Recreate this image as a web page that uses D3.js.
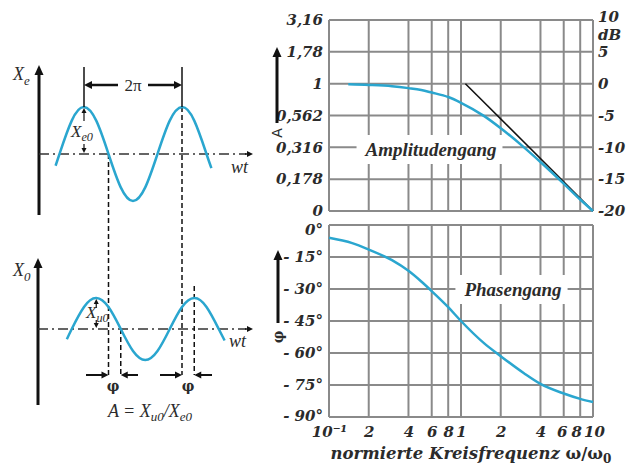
<!doctype html>
<html>
<head>
<meta charset="utf-8"/>
<title>Amplitudengang und Phasengang</title>
<script src="https://d3js.org/d3.v7.min.js"></script>
<style>
body { margin: 0; background: #fff; }
</style>
</head>
<body>
<div id="svg01"></div>
<script>
// Frequenzachse omega/omega0 (Gitterlinien und Beschriftung)
var gridW = [0.1, 0.2, 0.4, 0.6, 0.8, 1, 2, 4, 6, 8, 10];
var xLabels = ["10⁻¹", "2", "4", "6", "8", "1", "2", "4", "6", "8", "10"];

// Amplitudengang
var dbTicks = [10, 5, 0, -5, -10, -15, -20];
var aLabels = ["3,16", "1,78", "1", "0,562", "0,316", "0,178", "0"];
var dbLabels = ["10", "5", "0", "-5", "-10", "-15", "-20"];
var ampW  = [0.14, 0.2, 0.3, 0.4, 0.5, 0.6, 0.8, 1, 1.5, 2, 3, 4, 6, 8, 10];
var ampDb = [-0.1, -0.2, -0.4, -0.7, -1.0, -1.4, -2.1, -3.0, -5.1, -7.0, -10.0, -12.3, -15.7, -18.2, -20.0];
var asymW  = [1.08, 10];
var asymDb = [0, -20];

// Phasengang
var phTicks = [0, -15, -30, -45, -60, -75, -90];
var phLabels = ["0°", "- 15°", "- 30°", "- 45°", "- 60°", "- 75°", "- 90°"];
var phW   = [0.1, 0.15, 0.2, 0.3, 0.4, 0.5, 0.6, 0.8, 1, 1.5, 2, 3, 4, 6, 8, 10];
var phDeg = [-6, -8.5, -11.5, -16.5, -21.5, -26.5, -31, -38.5, -45, -55.5, -61.5, -69.5, -74.5, -79, -81.5, -83];

// Sinus-Skizze: Zeit in Perioden, Wert in Amplituden
var inT  = [-0.29, -0.25, -0.125, 0, 0.125, 0.25, 0.375, 0.5, 0.625, 0.75, 0.875, 1, 1.125, 1.25, 1.3];
var inV  = [-0.25, 0, 0.71, 1, 0.71, 0, -0.71, -1, -0.71, 0, 0.71, 1, 0.71, 0, -0.3];
var outT = [-0.3, -0.25, -0.125, 0, 0.125, 0.25, 0.375, 0.5, 0.625, 0.75, 0.875, 1, 1.125, 1.25, 1.31];
var outV = [-0.33, 0, 0.71, 1, 0.71, 0, -0.71, -1, -0.71, 0, 0.71, 1, 0.71, 0, -0.37];
var phaseShift = 0.125;

var svg = d3.select("#svg01").append("svg")
    .attr("width", 634)
    .attr("height", 465);

var blue = "#2aa6cf";
var grid = "#8a8a8a";
var ink = "#2b2b2b";
var tickFont = "'DejaVu Serif', serif";

function arrow(g, x1, y1, x2, y2, w, len, half) {
    var dx = x2 - x1, dy = y2 - y1;
    var L = Math.sqrt(dx * dx + dy * dy);
    var ux = dx / L, uy = dy / L;
    var bx = x2 - ux * len, by = y2 - uy * len;
    g.append("line")
        .attr("x1", x1).attr("y1", y1).attr("x2", bx + ux).attr("y2", by + uy)
        .attr("stroke", "#111").attr("stroke-width", w);
    g.append("path")
        .attr("d", "M" + x2 + "," + y2 + "L" + (bx - uy * half) + "," + (by + ux * half) +
              "L" + (bx + uy * half) + "," + (by - ux * half) + "Z")
        .attr("fill", "#111");
}

// ---------------- rechte Seite: Bode-Diagramm ----------------
var x = d3.scaleLog().domain([0.1, 10]).range([329, 593]);
var yA = d3.scaleLinear().domain([-20, 10]).range([211, 20]);
var yP = d3.scaleLinear().domain([-90, 0]).range([417, 225]);

function panel(yScale, ticks, title, tx, ty) {
    var g = svg.append("g");
    g.selectAll(".v").data(gridW).enter().append("line")
        .attr("x1", function(d) { return x(d); }).attr("x2", function(d) { return x(d); })
        .attr("y1", yScale.range()[0]).attr("y2", yScale.range()[1])
        .attr("stroke", grid).attr("stroke-width", 2);
    g.selectAll(".h").data(ticks).enter().append("line")
        .attr("x1", x(0.1)).attr("x2", x(10))
        .attr("y1", function(d) { return yScale(d); }).attr("y2", function(d) { return yScale(d); })
        .attr("stroke", grid).attr("stroke-width", 2);
    var t = g.append("text")
        .attr("x", tx).attr("y", ty)
        .attr("text-anchor", "middle")
        .attr("font-family", "'Liberation Serif', serif")
        .attr("font-style", "italic")
        .attr("font-weight", "bold")
        .attr("font-size", 19)
        .attr("fill", ink)
        .text(title);
    var b = t.node().getBBox();
    g.insert("rect", "text")
        .attr("x", b.x - 8).attr("y", b.y - 4)
        .attr("width", b.width + 14).attr("height", b.height + 8)
        .attr("fill", "#fff");
    return g;
}

var gA = panel(yA, dbTicks, "Amplitudengang", 431, 156);
var gP = panel(yP, phTicks, "Phasengang", 513, 296);

function styleTicks(sel) {
    sel.select(".domain").remove();
    sel.selectAll("text")
        .attr("font-family", tickFont)
        .attr("font-style", "italic")
        .attr("font-weight", "bold")
        .attr("font-size", 15)
        .attr("fill", ink);
}

svg.append("g").attr("transform", "translate(" + x(0.1) + ",0)")
    .call(d3.axisLeft(yA).tickValues(dbTicks).tickSize(0).tickPadding(6)
        .tickFormat(function(d, i) { return aLabels[i]; }))
    .call(styleTicks);

var gDb = svg.append("g").attr("transform", "translate(" + x(10) + ",0)")
    .call(d3.axisRight(yA).tickValues(dbTicks).tickSize(0).tickPadding(5)
        .tickFormat(function(d, i) { return dbLabels[i]; }))
    .call(styleTicks);
gDb.selectAll(".tick text").filter(function(d) { return d === 10; }).attr("dy", "0.1em");
gDb.append("text")
    .attr("x", 5).attr("y", yA(7.5) - 1).attr("dy", "0.32em")
    .attr("font-family", tickFont).attr("font-style", "italic").attr("font-weight", "bold")
    .attr("font-size", 15).attr("fill", ink)
    .text("dB");

var gPh = svg.append("g").attr("transform", "translate(" + x(0.1) + ",0)")
    .call(d3.axisLeft(yP).tickValues(phTicks).tickSize(0).tickPadding(6)
        .tickFormat(function(d, i) { return phLabels[i]; }))
    .call(styleTicks);
gPh.selectAll(".tick text").filter(function(d) { return d === 0; }).attr("dy", "0.62em");
gPh.selectAll(".tick text").filter(function(d) { return d === -90; }).attr("dy", "0.2em");

var gX = svg.append("g").attr("transform", "translate(0," + yP(-90) + ")")
    .call(d3.axisBottom(x).tickValues(gridW).tickSize(0).tickPadding(9)
        .tickFormat(function(d, i) { return xLabels[i]; }))
    .call(styleTicks);
// dichte Beschriftung am rechten Ende etwas auseinanderziehen
gX.selectAll(".tick text").attr("dx", function(d, i) {
    return i === 9 ? -4 : (i === 10 ? 1 : (i === 8 ? -2 : 0));
});

svg.append("text")
    .attr("x", 471).attr("y", 459)
    .attr("text-anchor", "middle")
    .attr("font-family", tickFont).attr("font-style", "italic").attr("font-weight", "bold")
    .attr("font-size", 16.5).attr("fill", ink)
    .text("normierte Kreisfrequenz ")
    .append("tspan").attr("font-style", "normal").text("ω/ω")
    .append("tspan").attr("font-size", 12).attr("dy", 4).text("0");

// Kurven
var ampData = ampW.map(function(w, i) { return [w, ampDb[i]]; });
var asymData = asymW.map(function(w, i) { return [w, asymDb[i]]; });
var phData = phW.map(function(w, i) { return [w, phDeg[i]]; });

svg.append("path").datum(asymData)
    .attr("d", d3.line().x(function(d) { return x(d[0]); }).y(function(d) { return yA(d[1]); }))
    .attr("fill", "none").attr("stroke", "#111").attr("stroke-width", 1.5);
svg.append("path").datum(ampData)
    .attr("d", d3.line().curve(d3.curveMonotoneX)
        .x(function(d) { return x(d[0]); }).y(function(d) { return yA(d[1]); }))
    .attr("fill", "none").attr("stroke", blue).attr("stroke-width", 2.5);
svg.append("path").datum(phData)
    .attr("d", d3.line().curve(d3.curveMonotoneX)
        .x(function(d) { return x(d[0]); }).y(function(d) { return yP(d[1]); }))
    .attr("fill", "none").attr("stroke", blue).attr("stroke-width", 2.5);

// Achsenpfeile A und phi
var gAx = svg.append("g");
arrow(gAx, 277, 123, 277, 47, 3, 10, 4.5);
gAx.append("text").attr("transform", "translate(282,133) rotate(-90)")
    .attr("text-anchor", "middle")
    .attr("font-family", "'DejaVu Sans', sans-serif").attr("font-size", 14).attr("fill", ink)
    .text("A");
arrow(gAx, 278, 323, 278, 250, 3, 10, 4.5);
gAx.append("text").attr("transform", "translate(283,337) rotate(-90)")
    .attr("text-anchor", "middle")
    .attr("font-family", "'DejaVu Serif', serif").attr("font-weight", "bold").attr("font-size", 14).attr("fill", ink)
    .text("φ");

// ---------------- linke Seite: Sinus-Skizze ----------------
var tIn = d3.scaleLinear().domain([0, 1]).range([84, 182]);
var tOut = d3.scaleLinear().domain([-phaseShift, 1 - phaseShift]).range([84, 182]);
var vIn = d3.scaleLinear().domain([-1, 1]).range([201, 107]);
var vOut = d3.scaleLinear().domain([-1, 1]).range([360, 298]);

var gL = svg.append("g");
var mathFont = "'Liberation Serif', serif";

// Achsen
arrow(gL, 39, 215, 39, 65, 3, 10, 4.5);
arrow(gL, 38, 405, 38, 258, 3, 10, 4.5);
gL.append("line").attr("x1", 39).attr("x2", 246).attr("y1", vIn(0)).attr("y2", vIn(0))
    .attr("stroke", "#333").attr("stroke-width", 1.5).attr("stroke-dasharray", "10,4,2,4");
arrow(gL, 245, vIn(0), 253, vIn(0), 1.5, 6, 3);
gL.append("line").attr("x1", 38).attr("x2", 246).attr("y1", vOut(0)).attr("y2", vOut(0))
    .attr("stroke", "#333").attr("stroke-width", 1.5).attr("stroke-dasharray", "10,4,2,4");
arrow(gL, 245, vOut(0), 253, vOut(0), 1.5, 6, 3);

// gestrichelte Hilfslinien
var dashes = [
    [tIn(0.25), vIn(0)], [tIn(1), vIn(1)],
    [tOut(0.25), vOut(0)], [tOut(1), 286]
];
gL.selectAll(".dash").data(dashes).enter().append("line")
    .attr("x1", function(d) { return d[0]; }).attr("x2", function(d) { return d[0]; })
    .attr("y1", function(d) { return d[1]; }).attr("y2", 375)
    .attr("stroke", "#111").attr("stroke-width", 1.5).attr("stroke-dasharray", "5,3");

// Wellen
var lineIn = d3.line().curve(d3.curveNatural)
    .x(function(d, i) { return tIn(inT[i]); }).y(function(d) { return vIn(d); });
var lineOut = d3.line().curve(d3.curveNatural)
    .x(function(d, i) { return tOut(outT[i]); }).y(function(d) { return vOut(d); });
gL.append("path").datum(inV).attr("d", lineIn)
    .attr("fill", "none").attr("stroke", blue).attr("stroke-width", 2.5);
gL.append("path").datum(outV).attr("d", lineOut)
    .attr("fill", "none").attr("stroke", blue).attr("stroke-width", 2.5);

// Periode 2pi
gL.selectAll(".per").data([0, 1]).enter().append("line")
    .attr("x1", function(d) { return tIn(d); }).attr("x2", function(d) { return tIn(d); })
    .attr("y1", 67).attr("y2", vIn(1))
    .attr("stroke", "#111").attr("stroke-width", 1.5);
arrow(gL, 118, 85, tIn(0), 85, 2.5, 8, 4);
arrow(gL, 148, 85, tIn(1), 85, 2.5, 8, 4);
gL.append("text").attr("x", 133).attr("y", 91).attr("text-anchor", "middle")
    .attr("font-family", mathFont).attr("font-size", 17).attr("fill", ink).text("2π");

// Amplitudenpfeile
arrow(gL, tIn(0), 121, tIn(0), vIn(1) + 1, 1.2, 5, 2.5);
arrow(gL, tIn(0), 144, tIn(0), vIn(0) - 1, 1.2, 5, 2.5);
arrow(gL, tOut(0), 308, tOut(0), vOut(1) + 1, 1.2, 5, 2.5);
arrow(gL, tOut(0), 320, tOut(0), vOut(0) - 1, 1.2, 5, 2.5);

// Phasenpfeile
var py = 375;
arrow(gL, 86, py, tIn(0.25), py, 2, 7, 3.5);
arrow(gL, 138, py, tOut(0.25), py, 2, 7, 3.5);
arrow(gL, 160, py, tIn(1), py, 2, 7, 3.5);
arrow(gL, 212, py, tOut(1), py, 2, 7, 3.5);

function sub(g, xx, yy, base, s, size, anchor) {
    var t = g.append("text").attr("x", xx).attr("y", yy)
        .attr("text-anchor", anchor || "start")
        .attr("font-family", mathFont).attr("font-style", "italic")
        .attr("font-size", size).attr("fill", ink);
    t.append("tspan").text(base);
    t.append("tspan").attr("font-size", size * 0.72).attr("dy", size * 0.25).text(s);
    return t;
}

sub(gL, 13, 80, "X", "e", 18);
sub(gL, 13, 276, "X", "0", 18);
sub(gL, 71, 137, "X", "e0", 17);
sub(gL, 86, 318, "X", "u0", 17);
gL.append("text").attr("x", 231).attr("y", 173)
    .attr("font-family", mathFont).attr("font-style", "italic").attr("font-size", 18).attr("fill", ink).text("wt");
gL.append("text").attr("x", 229).attr("y", 347)
    .attr("font-family", mathFont).attr("font-style", "italic").attr("font-size", 18).attr("fill", ink).text("wt");
gL.selectAll(".phi").data([113, 188]).enter().append("text")
    .attr("x", function(d) { return d; }).attr("y", 391).attr("text-anchor", "middle")
    .attr("font-family", "'DejaVu Serif', serif").attr("font-weight", "bold")
    .attr("font-size", 14).attr("fill", ink).text("φ");

var eq = gL.append("text").attr("x", 150).attr("y", 417).attr("text-anchor", "middle")
    .attr("font-family", mathFont).attr("font-style", "italic").attr("font-size", 18).attr("fill", ink);
eq.append("tspan").text("A = X");
eq.append("tspan").attr("font-size", 13).attr("dy", 4).text("u0");
eq.append("tspan").attr("dy", -4).text("/X");
eq.append("tspan").attr("font-size", 13).attr("dy", 4).text("e0");
</script>
</body>
</html>
